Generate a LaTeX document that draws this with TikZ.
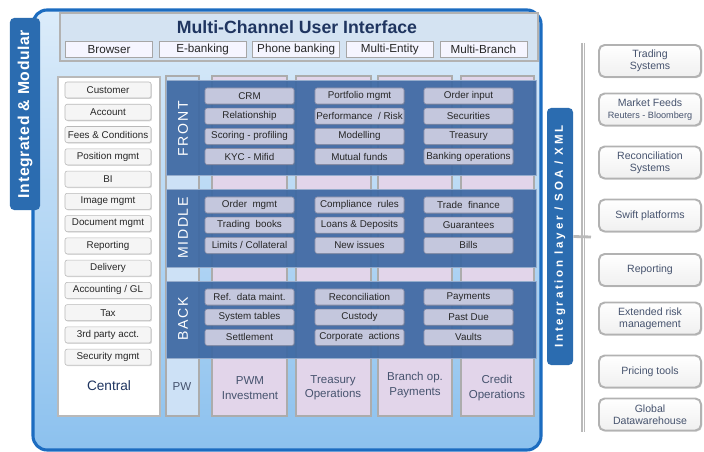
\documentclass[tikz,border=0pt]{standalone}
\usepackage{fontspec}
\setmainfont{Liberation Sans}
\newfontfamily\panelfont[LetterSpace=12]{Liberation Sans}
\newfontfamily\modfont[LetterSpace=4]{Liberation Sans}
\newfontfamily\layerfont[LetterSpace=24]{Liberation Sans}
\usepackage{xcolor}
\usepackage{tikz}
\usetikzlibrary{positioning,shadows}

\definecolor{frameblue}{HTML}{1C6CC0}
\definecolor{bgtop}{HTML}{DCECFA}
\definecolor{bgbottom}{HTML}{8CC1EE}
\definecolor{headfill}{HTML}{D4E3F2}
\definecolor{navy}{HTML}{1F3560}
\definecolor{panelblue}{HTML}{3E69A3}
\definecolor{itemfill}{HTML}{C4C7DD}
\definecolor{itemline}{HTML}{868BA5}
\definecolor{lilac}{HTML}{E2D5EA}
\definecolor{pwblue}{HTML}{CDE1F6}
\definecolor{tabblue}{HTML}{2B6CB0}
\definecolor{slate}{HTML}{46536E}

\begin{document}
\begin{tikzpicture}[
    x=0.025cm, y=-0.025cm,
    node distance=0.09cm and 0.15cm,
    title/.style={font=\fontsize{12.6}{15}\selectfont\bfseries, text=navy},
    chan/.style={rectangle, draw=gray!70, fill=blue!4, minimum width=2.175cm, minimum height=0.4cm, inner sep=0pt, font=\fontsize{8.3}{10}\selectfont, text=black!85},
    item/.style={rectangle, rounded corners=1.5pt, draw=itemline, fill=itemfill, minimum width=2.225cm, minimum height=0.4cm, inner sep=0pt, font=\fontsize{7}{8}\selectfont, text=black!85, drop shadow={opacity=0.3, shadow xshift=0.7pt, shadow yshift=-0.7pt}},
    item_side/.style={item, draw=gray!55, fill=gray!8, minimum width=2.15cm},
    panel/.style={draw=panelblue!55!white, fill=panelblue, fill opacity=0.93},
    panel_label/.style={rotate=90, text=white, font=\panelfont\fontsize{10}{12}\selectfont},
    col_lilac/.style={draw=gray!65, fill=lilac, line width=0.8pt},
    col_pw/.style={col_lilac, fill=pwblue},
    col_text/.style={align=center, text=slate, font=\fontsize{8.2}{10.2}\selectfont},
    tab/.style={rectangle, fill=tabblue, rounded corners=3pt, rotate=90, inner sep=0pt, text=white},
    bus/.style={draw=gray!55, line width=3pt},
    ext_box/.style={rectangle, rounded corners=4pt, draw=gray!60, line width=1.4pt, top color=white, bottom color=gray!12, minimum width=2.55cm, minimum height=0.8cm, align=center, text=slate, font=\fontsize{7.5}{8.6}\selectfont, drop shadow={opacity=0.35, shadow xshift=0.8pt, shadow yshift=-0.8pt}},
]
\useasboundingbox (0,0) rectangle (704,452);
% main frame
\draw[draw=frameblue, line width=2.2pt, rounded corners=10pt, top color=bgtop, bottom color=bgbottom] (33,10) rectangle (541,450);
\node[tab, minimum width=4.8cm, minimum height=0.75cm, font=\modfont\bfseries\fontsize{11.2}{13}\selectfont] (intmod) at (25,114) {Integrated \& Modular};
% user interface header
\draw[draw=gray!60, fill=headfill, line width=0.8pt] (60,13) rectangle (538,61);
\node[title] (head) at (297,27) {Multi-Channel User Interface};
\node[chan] (browser) at (109,49.5) {Browser};
\node[chan, right=of browser] (ebank) {E-banking};
\node[chan, right=of ebank] (phone) {Phone banking};
\node[chan, right=of phone] (entity) {Multi-Entity};
\node[chan, right=of entity] (mbranch) {Multi-Branch};
% central column
\draw[draw=gray!55, fill=white, line width=1pt] (58,77) rectangle (160,416);
\node[item_side] (cust) at (108,90) {Customer};
\node[item_side, below=0.1425cm of cust] (acct) {Account};
\node[item_side, below=0.1425cm of acct] (fees) {Fees \& Conditions};
\node[item_side, below=0.1425cm of fees] (posit) {Position mgmt};
\node[item_side, below=0.1425cm of posit] (bi) {BI};
\node[item_side, below=0.1425cm of bi] (image) {Image mgmt};
\node[item_side, below=0.1425cm of image] (docu) {Document mgmt};
\node[item_side, below=0.1425cm of docu] (repc) {Reporting};
\node[item_side, below=0.1425cm of repc] (deliv) {Delivery};
\node[item_side, below=0.1425cm of deliv] (accgl) {Accounting / GL};
\node[item_side, below=0.1425cm of accgl] (tax) {Tax};
\node[item_side, below=0.1425cm of tax] (third) {3rd party acct.};
\node[item_side, below=0.1425cm of third] (secu) {Security mgmt};
\node[font=\fontsize{9.7}{11}\selectfont, text=navy] (central) at (109,386) {Central};
% business columns
\draw[col_pw] (166,76) rectangle (199,416);
\draw[col_lilac] (212,76) rectangle (287,416);
\draw[col_lilac] (296,76) rectangle (371,416);
\draw[col_lilac] (378,76) rectangle (452,416);
\draw[col_lilac] (461,76) rectangle (534,416);
\node[col_text] (pw) at (182,387) {PW};
\node[col_text] (pwm) at (250,388) {PWM\\Investment};
\node[col_text] (treas) at (333,388) {Treasury\\Operations};
\node[col_text] (branch) at (415,385) {Branch op.\\Payments};
\node[col_text] (credit) at (497,388) {Credit\\Operations};
% front / middle / back layers
\draw[panel] (166,80) rectangle (536,175);
\draw[panel] (166,189) rectangle (536,267);
\draw[panel] (166,281) rectangle (536,358);
\node[panel_label] (front) at (183,129) {FRONT};
\node[panel_label] (middle) at (183,228) {MIDDLE};
\node[panel_label] (back) at (183,319) {BACK};
% front items
\node[item] (crm) at (249.5,96) {CRM};
\node[item, below=of crm] (relat) {Relationship};
\node[item, below=of relat] (scor) {Scoring - profiling};
\node[item, below=of scor] (kyc) {KYC - Mifid};
\node[item] (port) at (359.5,96) {Portfolio mgmt};
\node[item, below=of port] (perf) {Performance\ \ / Risk};
\node[item, below=of perf] (model) {Modelling};
\node[item, below=of model] (mutual) {Mutual funds};
\node[item] (order) at (468.5,96) {Order input};
\node[item, below=of order] (secur) {Securities};
\node[item, below=of secur] (treasury) {Treasury};
\node[item, below=of treasury] (bankop) {Banking operations};
% middle items
\node[item] (ordmgmt) at (249.5,205) {Order\ \ mgmt};
\node[item, below=of ordmgmt] (trbooks) {Trading\ \ books};
\node[item, below=of trbooks] (limits) {Limits / Collateral};
\node[item] (compl) at (359.5,205) {Compliance\ \ rules};
\node[item, below=of compl] (loans) {Loans \& Deposits};
\node[item, below=of loans] (newiss) {New issues};
\node[item] (trade) at (468.5,205) {Trade\ \ finance};
\node[item, below=of trade] (guar) {Guarantees};
\node[item, below=of guar] (bills) {Bills};
% back items
\node[item] (refdata) at (249.5,297) {Ref.\ \ data maint.};
\node[item, below=of refdata] (systab) {System tables};
\node[item, below=of systab] (settle) {Settlement};
\node[item] (recon) at (359.5,297) {Reconciliation};
\node[item, below=of recon] (custody) {Custody};
\node[item, below=of custody] (corpact) {Corporate\ \ actions};
\node[item] (paym) at (468.5,297) {Payments};
\node[item, below=of paym] (pastdue) {Past Due};
\node[item, below=of pastdue] (vaults) {Vaults};
% integration layer
\node[tab, minimum width=6.425cm, minimum height=0.65cm, font=\layerfont\bfseries\fontsize{8.2}{10}\selectfont] (intlayer) at (560,236.5) {Integration layer / SOA / XML};
\coordinate (bus_top) at (583,43);
\coordinate (bus_bot) at (583,432);
\coordinate (tick_end) at (591,237);
\draw[bus] (bus_top) -- (bus_bot);
\draw[white, line width=0.6pt] (bus_top) -- (bus_bot);
\draw[bus, line width=2pt] (intlayer.south) -- (tick_end);
% external systems
\node[ext_box] (trading) at (650,61) {Trading\\Systems};
\node[ext_box] (feeds) at (650,109.5) {Market Feeds\\{\fontsize{6.5}{7.6}\selectfont Reuters - Bloomberg}};
\node[ext_box] (reconsys) at (650,162.5) {Reconciliation\\Systems};
\node[ext_box] (swift) at (650,215.5) {Swift platforms};
\node[ext_box] (reporting) at (650,270) {Reporting};
\node[ext_box] (risk) at (650,318.5) {Extended risk\\management};
\node[ext_box] (pricing) at (650,371.5) {Pricing tools};
\node[ext_box] (dwh) at (650,414.5) {Global\\Datawarehouse};
\end{tikzpicture}
\end{document}
